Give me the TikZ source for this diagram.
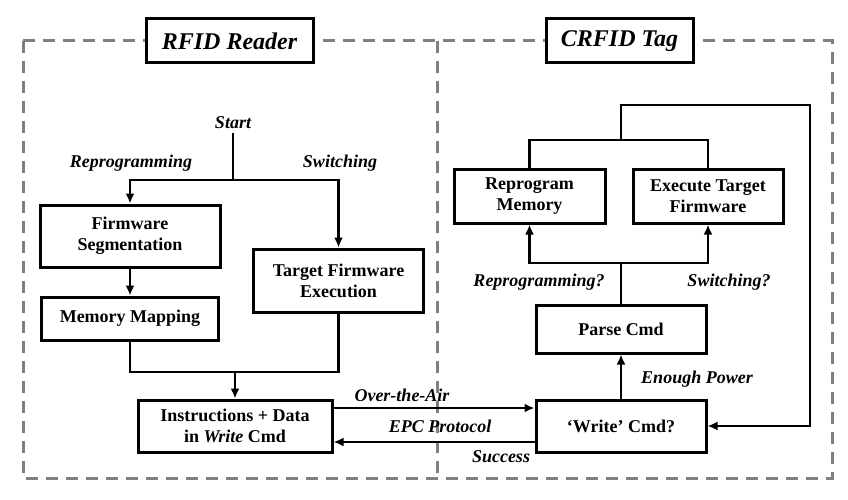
\documentclass[tikz,border=0pt]{standalone}
\usepackage{fontspec}
\setmainfont{Liberation Serif}
\usepackage{tikz}
\usetikzlibrary{arrows.meta}
\tikzstyle{title} = [rectangle, 
minimum height=44pt, 
text centered, 
draw=black, line width=3pt,
fill=white,
font=\fontsize{24}{26}\selectfont\bfseries\itshape]
\tikzstyle{process} = [rectangle, 
minimum height=48pt, 
text centered, 
align=center,
draw=black, line width=3pt,
font=\fontsize{18}{21}\selectfont\bfseries]
\tikzstyle{label} = [font=\fontsize{18}{21}\selectfont\bfseries\itshape]
\tikzstyle{line} = [line width=2.6pt]
\tikzstyle{arrow} = [line width=2.6pt,->,>={Latex[length=10pt,width=9pt]}]
\tikzstyle{dashbox} = [line width=3pt, gray, dash pattern=on 12pt off 8pt]
\begin{document}
\begin{tikzpicture}[x=1pt,y=-1pt]
        \useasboundingbox (0,0) rectangle (848,500);
        % frames
        \draw [dashbox] (23,41) rectangle (832,478);
        \draw [dashbox] (437,41) -- (437,478);
        \node (reader) [title, minimum width=167pt] at (229.5,41) {RFID Reader};
        \node (tag) [title, minimum width=147pt] at (619.5,41) {CRFID Tag};
        
        % reader side
        \node (start) [label] at (233,123) {Start};
        \node (seg) [process, minimum width=180pt, minimum height=62pt] at (130,236) {Firmware\\Segmentation};
        \node (target) [process, minimum width=170pt, minimum height=63pt] at (338.5,280.5) {Target Firmware\\Execution};
        \node (mapping) [process, minimum width=177pt, minimum height=43pt] at (130,318.5) {Memory Mapping};
        \node (instr) [process, minimum width=194pt, minimum height=52pt] at (235,426) {Instructions + Data\\in \textit{Write} Cmd};
        \node (reprogl) [label] at (131,163) {Reprogramming};
        \node (switchl) [label] at (340,163) {Switching};
        
        \coordinate (split) at (233,180);
        \coordinate (merge) at (235,372);
        \draw [line] (start) -- (split);
        \draw [arrow] (split) -| (seg.north);
        \draw [arrow] (split) -| (target.north);
        \draw [arrow] (seg) -- (mapping);
        \draw [line] (mapping.south) |- (merge);
        \draw [line] (target.south) |- (merge);
        \draw [arrow] (merge) -- (instr.north);
        
        % tag side
        \node (write) [process, minimum width=170pt, minimum height=52pt] at (621,426) {‘Write’ Cmd?};
        \node (parse) [process, minimum width=170pt, minimum height=48pt] at (621,329) {Parse Cmd};
        \node (reprog) [process, minimum width=151pt, minimum height=54pt] at (529.5,196) {Reprogram\\Memory};
        \node (execute) [process, minimum width=150pt, minimum height=54pt] at (708,196) {Execute Target\\Firmware};
        \node (reprogq) [label] at (539,282) {Reprogramming?};
        \node (switchq) [label] at (729,282) {Switching?};
        \node (power) [label] at (697,379) {Enough Power};
        
        \coordinate (fork) at (621,263);
        \coordinate (join) at (621,140);
        \coordinate (loop) at (810,105);
        \draw [arrow] (write) -- (parse);
        \draw [line] (parse) -- (fork);
        \draw [arrow] (fork) -| (reprog.south);
        \draw [arrow] (fork) -| (execute.south);
        \draw [line] (reprog.north) |- (join) -| (execute.north);
        \draw [arrow] (join) |- (loop) |- (write.east);
        
        % link between reader and tag
        \draw [arrow] ([yshift=18pt]instr.east) -- ([yshift=18pt]write.west);
        \draw [arrow] ([yshift=-16pt]write.west) -- ([yshift=-16pt]instr.east);
        \node (air) [label] at (402,395) {Over-the-Air};
        \node (epc) [label] at (440,426) {EPC Protocol};
        \node (success) [label] at (501,457) {Success};
        
        \end{tikzpicture}
\end{document}
